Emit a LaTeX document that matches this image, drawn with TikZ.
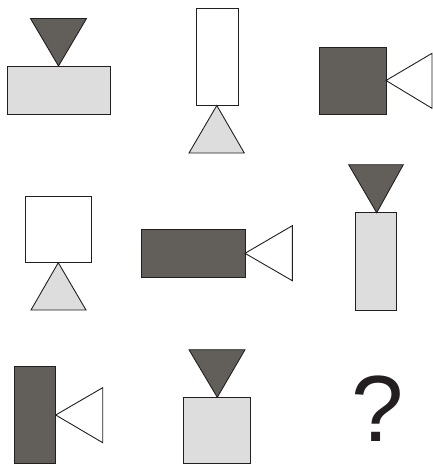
\documentclass[tikz,border=0pt]{standalone}
\usepackage{fontspec}
\setmainfont{Liberation Sans}
\definecolor{dk}{RGB}{98,94,90}
\definecolor{lt}{RGB}{221,221,221}
\definecolor{ln}{RGB}{35,31,32}
\tikzset{
  shp/.style={draw=ln,line width=0.9pt,line join=miter},
  darkshp/.style={shp,fill=dk},
  lightshp/.style={shp,fill=lt},
  whiteshp/.style={shp,fill=white}
}
\begin{document}
\begin{tikzpicture}[x=1pt,y=-1pt]
\useasboundingbox (0,0) rectangle (433,464);
% 1
\draw[lightshp] (7.5,66) rectangle (110,114);
\draw[darkshp] (30.5,18.5) -- (86.5,18.5) -- (58.5,66) -- cycle;
% 2
\draw[whiteshp] (196,8.5) rectangle (238,105.5);
\draw[lightshp] (216.8,105.5) -- (244.3,153) -- (189,153) -- cycle;
% 3
\draw[darkshp] (319.5,47.5) rectangle (386,114);
\draw[whiteshp] (386,80.5) -- (432,53.3) -- (432,108.3) -- cycle;
% 4
\draw[whiteshp] (25,196.7) rectangle (91.5,262.7);
\draw[lightshp] (58.3,262.7) -- (86,310) -- (31,310) -- cycle;
% 5
\draw[darkshp] (141.7,229.3) rectangle (245,277.3);
\draw[whiteshp] (245,253.3) -- (292.3,225.7) -- (292.3,280.7) -- cycle;
% 6
\draw[lightshp] (355.7,212.7) rectangle (396.7,310);
\draw[darkshp] (348.7,164.7) -- (403.3,164.7) -- (376.7,212.7) -- cycle;
% 7
\draw[darkshp] (14.3,366.3) rectangle (55.7,463.3);
\draw[whiteshp] (55.7,415) -- (102.7,387.7) -- (102.7,442.7) -- cycle;
% 8
\draw[lightshp] (183.3,397.3) rectangle (250.7,463.3);
\draw[darkshp] (189,349.7) -- (245,349.7) -- (217.3,397.3) -- cycle;
% question mark
\node[anchor=base,inner sep=0pt,text=ln,font=\fontsize{94}{94}\selectfont] (q) at (378,441.7) {?};
\end{tikzpicture}
\end{document}
